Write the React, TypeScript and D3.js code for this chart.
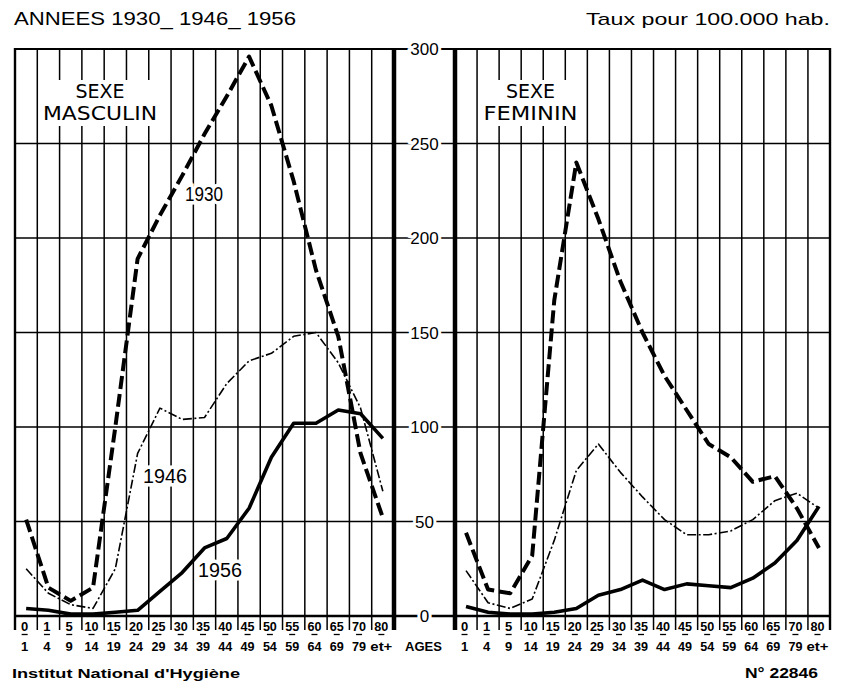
import React from "react";
import * as d3 from "d3";

// age groups (column labels: start / end of each class)
const ageStart = ["0", "1", "5", "10", "15", "20", "25", "30", "35", "40", "45", "50", "55", "60", "65", "70", "80"];
const ageEnd = ["1", "4", "9", "14", "19", "24", "29", "34", "39", "44", "49", "54", "59", "64", "69", "79", "et+"];
const categories = ageStart.map((s, i) => `${s}-${ageEnd[i]}`);

const yTicks = [0, 50, 100, 150, 200, 250, 300];

// rates per 100.000
const male1930 = [51, 15, 8, 15, 100, 189, 212, 233, 255, 275, 296, 270, 230, 183, 148, 86, 52];
const male1946 = [25, 12, 6, 4, 25, 86, 110, 104, 105, 123, 135, 139, 148, 150, 134, 110, 66];
const male1956 = [4, 3, 1, 1, 2, 3, 13, 23, 36, 41, 57, 84, 102, 102, 109, 107, 94];

const female1930 = [44, 14, 12, 32, 167, 240, 210, 177, 150, 127, 109, 91, 84, 71, 74, 57, 36];
const female1946 = [24, 7, 4, 9, 40, 77, 91, 76, 63, 51, 43, 43, 45, 51, 61, 65, 57];
const female1956 = [5, 2, 1, 1, 2, 4, 11, 14, 19, 14, 17, 16, 15, 20, 28, 40, 58];

const FONT = "'Liberation Sans', 'DejaVu Sans', sans-serif";

const styles: Record<string, { width: number; dash?: string }> = {
  "1930": { width: 4, dash: "13 5" },
  "1946": { width: 1.6, dash: "9 2.5 2 2.5" },
  "1956": { width: 3.6 },
};

interface Panel {
  x0: number;
  x1: number;
  title: string[];
  box: [number, number, number, number];
  series: { year: string; values: number[] }[];
}

export default function App() {
  const top = 49;
  const bottom = 616;
  const y = d3.scaleLinear().domain([0, 300]).range([bottom, top]);

  const panels: Panel[] = [
    {
      x0: 15,
      x1: 394,
      title: ["SEXE", "MASCULIN"],
      box: [40, 80, 120, 46],
      series: [
        { year: "1930", values: male1930 },
        { year: "1946", values: male1946 },
        { year: "1956", values: male1956 },
      ],
    },
    {
      x0: 455,
      x1: 830,
      title: ["SEXE", "FEMININ"],
      box: [481, 80, 99, 46],
      series: [
        { year: "1930", values: female1930 },
        { year: "1946", values: female1946 },
        { year: "1956", values: female1956 },
      ],
    },
  ];

  const yearLabels = [
    { text: "1930", x: 185, y: 201, w: 38 },
    { text: "1946", x: 143, y: 483, w: 44 },
    { text: "1956", x: 198, y: 577, w: 44 },
  ];

  const gapMid = (panels[0].x1 + panels[1].x0) / 2;

  return (
    <svg
      width={856}
      height={686}
      style={{ position: "absolute", left: 0, top: 0, background: "#fff" }}
      fontFamily={FONT}
    >
      <rect width={856} height={686} fill="#fff" />

      {/* headers */}
      <text x={14} y={25} fontSize={18} textLength={282} lengthAdjust="spacingAndGlyphs">
        ANNEES 1930_ 1946_ 1956
      </text>
      <text x={586} y={25} fontSize={17} textLength={244} lengthAdjust="spacingAndGlyphs">
        Taux pour 100.000 hab.
      </text>

      {/* horizontal grid, running through the gap between the panels */}
      {yTicks.map((t) => (
        <line
          key={"h" + t}
          x1={panels[0].x0}
          x2={panels[1].x1}
          y1={y(t)}
          y2={y(t)}
          stroke="#000"
          strokeWidth={t === 0 ? 2.6 : t === 300 ? 2 : 1.3}
        />
      ))}

      {panels.map((p, pi) => {
        const x = d3.scaleBand().domain(categories).range([p.x0, p.x1]);
        const bw = x.bandwidth();
        const bounds = d3.range(categories.length + 1).map((i) => p.x0 + i * bw);
        const line = d3
          .line<number>()
          .x((_, i) => (x(categories[i]) as number) + bw / 2)
          .y((d) => y(d));
        const [bx, by, bwid, bh] = p.box;
        return (
          <g key={pi}>
            {bounds.map((bx0, i) => {
              const edge = i === 0 || i === bounds.length - 1;
              const inner = (pi === 0 && i === bounds.length - 1) || (pi === 1 && i === 0);
              return (
                <line
                  key={i}
                  x1={bx0}
                  x2={bx0}
                  y1={top - 1}
                  y2={bottom + 14}
                  stroke="#000"
                  strokeWidth={inner ? 4.5 : edge ? 2.4 : 1.5}
                />
              );
            })}
            <rect x={bx} y={by} width={bwid} height={bh} fill="#fff" />
            <text x={bx + bwid / 2} y={98} fontSize={19} textAnchor="middle" fontFamily="'DejaVu Sans', sans-serif">
              {p.title[0]}
            </text>
            <text
              x={bx + bwid / 2}
              y={120}
              fontSize={19}
              textAnchor="middle"
              fontFamily="'DejaVu Sans', sans-serif"
              textLength={pi === 0 ? 114 : 94}
              lengthAdjust="spacingAndGlyphs"
            >
              {p.title[1]}
            </text>

            {pi === 0 &&
              yearLabels.map((l) => (
                <text
                  key={l.text}
                  x={l.x}
                  y={l.y}
                  fontSize={20}
                  textLength={l.w}
                  lengthAdjust="spacingAndGlyphs"
                  stroke="#fff"
                  strokeWidth={7}
                  style={{ paintOrder: "stroke" }}
                >
                  {l.text}
                </text>
              ))}

            {p.series.map((s) => (
              <path
                key={s.year}
                d={line(s.values) || ""}
                fill="none"
                stroke="#000"
                strokeWidth={styles[s.year].width}
                strokeDasharray={styles[s.year].dash}
                strokeLinejoin="round"
              />
            ))}

            {/* age labels */}
            {categories.map((c, i) => {
              const cx = (x(c) as number) + bw / 2 - 1.5;
              return (
                <g key={c} fontWeight="bold" fontSize={13} textAnchor="middle">
                  <text
                    x={cx}
                    y={631}
                    textLength={ageStart[i].length > 1 ? 14 : undefined}
                    lengthAdjust="spacingAndGlyphs"
                  >
                    {ageStart[i]}
                  </text>
                  <line x1={cx - 3} x2={cx + 3} y1={634.5} y2={634.5} stroke="#000" strokeWidth={1.3} />
                  <text
                    x={cx}
                    y={651}
                    textLength={ageEnd[i].length > 1 ? (ageEnd[i] === "et+" ? 22 : 14) : undefined}
                    lengthAdjust="spacingAndGlyphs"
                  >
                    {ageEnd[i]}
                  </text>
                </g>
              );
            })}
          </g>
        );
      })}

      {/* value axis between the panels */}
      {yTicks.map((t) => (
        <text
          key={"yl" + t}
          x={gapMid}
          y={y(t) + 6}
          fontSize={17}
          textAnchor="middle"
          stroke="#fff"
          strokeWidth={6}
          style={{ paintOrder: "stroke" }}
        >
          {t}
        </text>
      ))}

      <text x={405} y={651} fontSize={13} fontWeight="bold">
        AGES
      </text>

      {/* footer */}
      <text x={12} y={678} fontSize={13} fontWeight="bold" textLength={228} lengthAdjust="spacingAndGlyphs">
        Institut National d'Hygiène
      </text>
      <text x={745} y={678} fontSize={15} fontWeight="bold" textLength={73} lengthAdjust="spacingAndGlyphs">
        N° 22846
      </text>
    </svg>
  );
}
